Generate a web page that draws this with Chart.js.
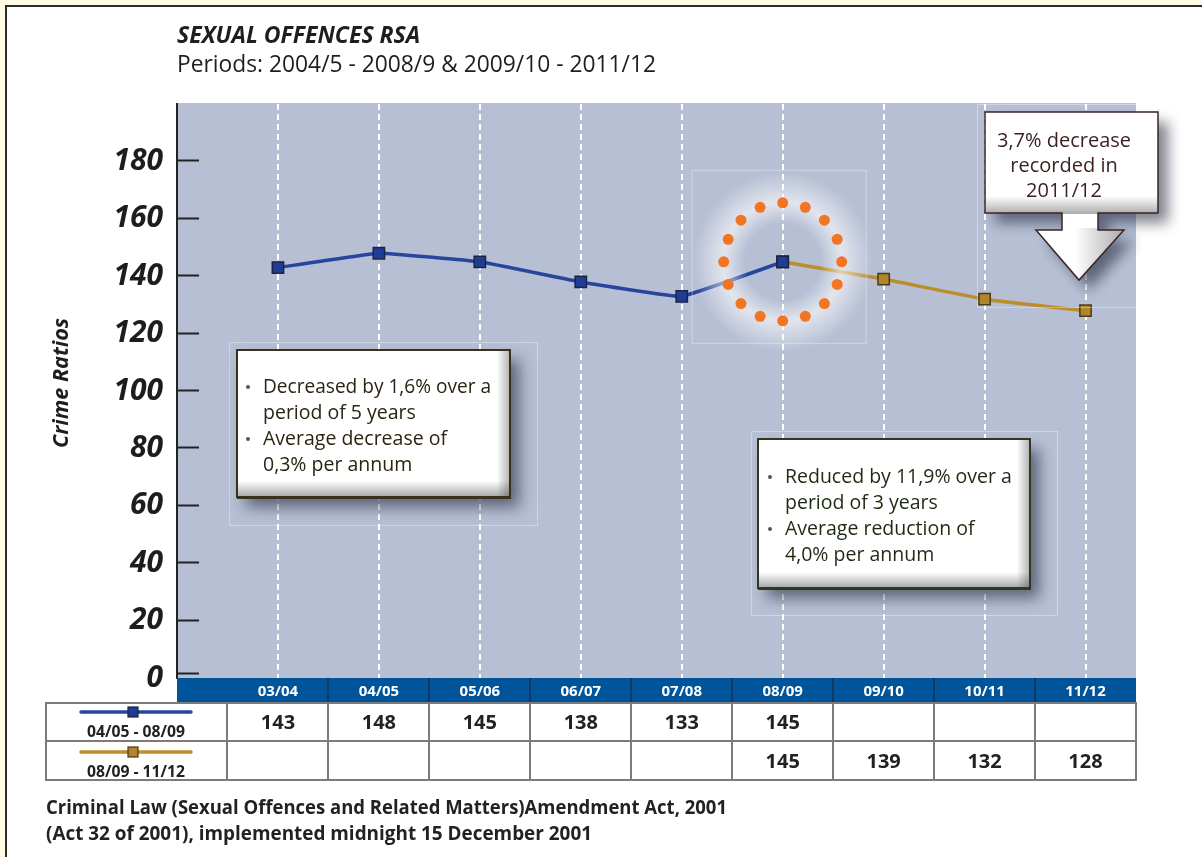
<!DOCTYPE html>
<html>
<head>
<meta charset="utf-8">
<title>Sexual Offences RSA</title>
<script src="https://cdn.jsdelivr.net/npm/chart.js@4.4.1/dist/chart.umd.min.js"></script>
<style>
  html, body { margin: 0; padding: 0; background: #fffbe4; }
  #frame {
    position: absolute; left: 5px; top: 5px; width: 1197px; height: 852px;
    background: #fff; border-left: 2px solid #2b2b2b; border-top: 2px solid #2b2b2b;
    box-sizing: border-box;
  }
  #graph1 { position: absolute; left: 0; top: 0; }
</style>
</head>
<body>
<div id="frame"></div>
<canvas id="graph1" width="1202" height="857"></canvas>
<script>
var FONT = "'Open Sans', 'Noto Sans', sans-serif";

// financial years along the bottom
var periods = ['03/04', '04/05', '05/06', '06/07', '07/08', '08/09', '09/10', '10/11', '11/12'];
// crime ratios per 100 000 of population
var ratioFirst = [143, 148, 145, 138, 133, 145, null, null, null];
var ratioSecond = [null, null, null, null, null, 145, 139, 132, 128];
var seriesNames = ['04/05 - 08/09', '08/09 - 11/12'];
var yTicks = [0, 20, 40, 60, 80, 100, 120, 140, 160, 180];

var noteFirst = [['Decreased by 1,6% over a', 'period of 5 years'], ['Average decrease of', '0,3% per annum']];
var noteSecond = [['Reduced by 11,9% over a', 'period of 3 years'], ['Average reduction of', '4,0% per annum']];
var noteLast = ['3,7% decrease', 'recorded in', '2011/12'];

var BLUE = '#27459c', BLUE_PT = '#1f3d96';
var GOLD = '#bb8d2d', GOLD_PT = '#b0862c';

function toPoints(arr) {
  return arr.map(function(v, i) { return { x: i, y: v }; }).filter(function(p) { return p.y !== null; });
}

function text(ctx, s, x, y, font, color, align, maxW) {
  ctx.font = font;
  ctx.fillStyle = color;
  ctx.textAlign = align || 'left';
  ctx.textBaseline = 'alphabetic';
  if (maxW) ctx.fillText(s, x, y, maxW); else ctx.fillText(s, x, y);
}

// white panel with a bevelled lower/right edge and a soft drop shadow
function bevelBox(ctx, x, y, w, h, edge) {
  ctx.save();
  ctx.shadowColor = 'rgba(20,25,45,0.55)';
  ctx.shadowBlur = 14;
  ctx.shadowOffsetX = 9;
  ctx.shadowOffsetY = 10;
  ctx.fillStyle = '#fff';
  ctx.fillRect(x, y, w, h);
  ctx.restore();
  var g = ctx.createLinearGradient(0, y + h - 16, 0, y + h);
  g.addColorStop(0, 'rgba(60,60,60,0)');
  g.addColorStop(1, 'rgba(60,60,60,0.45)');
  ctx.fillStyle = g;
  ctx.fillRect(x, y + h - 16, w, 16);
  g = ctx.createLinearGradient(x + w - 13, 0, x + w, 0);
  g.addColorStop(0, 'rgba(60,60,60,0)');
  g.addColorStop(1, 'rgba(60,60,60,0.4)');
  ctx.fillStyle = g;
  ctx.fillRect(x + w - 13, y, 13, h);
  ctx.strokeStyle = edge;
  ctx.lineWidth = 2;
  ctx.strokeRect(x, y, w, h);
  ctx.fillStyle = edge;
  ctx.fillRect(x, y + h - 1, w + 1, 3);
}

function bulletNote(ctx, items, x, y, color) {
  var line = 0;
  items.forEach(function(item) {
    ctx.fillStyle = '#555';
    ctx.beginPath();
    ctx.arc(x, y + line * 26 - 6, 2, 0, Math.PI * 2);
    ctx.fill();
    item.forEach(function(s) {
      text(ctx, s, x + 15, y + line * 26, '19.5px ' + FONT, color, 'left', 228);
      line++;
    });
  });
}

function guide(ctx, x, y, w, h) {
  ctx.strokeStyle = 'rgba(255,255,255,0.35)';
  ctx.lineWidth = 1;
  ctx.strokeRect(x + 0.5, y + 0.5, w, h);
}

var decor = {
  id: 'decor',
  beforeDraw: function(chart) {
    var ctx = chart.ctx, a = chart.chartArea;
    ctx.save();
    ctx.fillStyle = '#b6bfd4';
    ctx.fillRect(a.left, a.top - 1, a.right - a.left, a.bottom - a.top + 1);
    ctx.restore();
  },
  afterDatasetsDraw: function(chart) {
    var ctx = chart.ctx, xs = chart.scales.x, ys = chart.scales.y;
    var cx = xs.getPixelForValue(5), cy = ys.getPixelForValue(ratioFirst[5]);
    ctx.save();
    guide(ctx, cx - 91, cy - 92, 174, 173);
    // glowing ring of dots around the change of period
    var g = ctx.createRadialGradient(cx, cy, 0, cx, cy, 90);
    g.addColorStop(0, 'rgba(255,255,255,0)');
    g.addColorStop(0.42, 'rgba(255,255,255,0)');
    g.addColorStop(0.66, 'rgba(255,255,255,0.6)');
    g.addColorStop(1, 'rgba(255,255,255,0)');
    ctx.fillStyle = g;
    ctx.beginPath();
    ctx.arc(cx, cy, 90, 0, Math.PI * 2);
    ctx.fill();
    ctx.fillStyle = '#f37421';
    for (var k = 0; k < 16; k++) {
      var t = k * Math.PI / 8;
      ctx.beginPath();
      ctx.arc(cx + 59 * Math.sin(t), cy - 59 * Math.cos(t), 5.5, 0, Math.PI * 2);
      ctx.fill();
    }
    // redraw the point marker above the glow
    ctx.fillStyle = BLUE_PT;
    ctx.strokeStyle = '#1b2440';
    ctx.lineWidth = 1.5;
    ctx.fillRect(cx - 5.6, cy - 5.6, 11.2, 11.2);
    ctx.strokeRect(cx - 5.6, cy - 5.6, 11.2, 11.2);
    ctx.restore();
  },
  afterDraw: function(chart) {
    var ctx = chart.ctx, a = chart.chartArea, xs = chart.scales.x, ys = chart.scales.y;
    ctx.save();

    // headings
    text(ctx, 'SEXUAL OFFENCES RSA', 177, 43, 'italic bold 23px ' + FONT, '#1e1e1e', 'left', 246);
    text(ctx, 'Periods: 2004/5 - 2008/9 & 2009/10 - 2011/12', 177, 72, '23px ' + FONT, '#1e1e1e', 'left', 479);

    // y axis title
    ctx.save();
    ctx.translate(62, 383);
    ctx.rotate(-Math.PI / 2);
    ctx.font = 'italic bold 22px ' + FONT;
    ctx.fillStyle = '#1e1e1e';
    ctx.textAlign = 'center';
    ctx.textBaseline = 'middle';
    ctx.fillText('Crime Ratios', 0, 0, 130);
    ctx.restore();

    // inward tick marks
    ctx.strokeStyle = '#222';
    ctx.lineWidth = 2;
    yTicks.forEach(function(v) {
      var y = Math.round(ys.getPixelForValue(v)) - 0.5;
      if (v === 0) y -= 4;
      ctx.beginPath();
      ctx.moveTo(a.left, y);
      ctx.lineTo(a.left + 22, y);
      ctx.stroke();
    });

    // faint layout guides
    guide(ctx, 229, 342, 308, 183);
    guide(ctx, 751, 431, 306, 184);
    guide(ctx, 977, a.top, a.right - 977, 203);

    // note boxes
    bevelBox(ctx, 237, 350, 273, 147, '#3a3020');
    bulletNote(ctx, noteFirst, 248, 393, '#2b2410');
    bevelBox(ctx, 758, 439, 272, 149, '#2f3822');
    bulletNote(ctx, noteSecond, 770, 483, '#1f2a12');

    // arrow call-out
    ctx.save();
    ctx.beginPath();
    ctx.moveTo(985, 112);
    ctx.lineTo(1158, 112);
    ctx.lineTo(1158, 213);
    ctx.lineTo(1098, 213);
    ctx.lineTo(1098, 230);
    ctx.lineTo(1124, 230);
    ctx.lineTo(1079, 280);
    ctx.lineTo(1036, 230);
    ctx.lineTo(1062, 230);
    ctx.lineTo(1062, 213);
    ctx.lineTo(985, 213);
    ctx.closePath();
    ctx.save();
    ctx.shadowColor = 'rgba(20,25,45,0.55)';
    ctx.shadowBlur = 14;
    ctx.shadowOffsetX = 10;
    ctx.shadowOffsetY = 10;
    ctx.fillStyle = '#fff';
    ctx.fill();
    ctx.restore();
    ctx.save();
    ctx.clip();
    var g = ctx.createLinearGradient(0, 196, 0, 214);
    g.addColorStop(0, 'rgba(70,70,70,0)');
    g.addColorStop(1, 'rgba(70,70,70,0.45)');
    ctx.fillStyle = g;
    ctx.fillRect(985, 196, 173, 18);
    g = ctx.createLinearGradient(1075, 0, 1124, 0);
    g.addColorStop(0, 'rgba(70,70,70,0)');
    g.addColorStop(1, 'rgba(70,70,70,0.45)');
    ctx.fillStyle = g;
    ctx.fillRect(1075, 228, 50, 53);
    ctx.restore();
    ctx.strokeStyle = '#3a2424';
    ctx.lineWidth = 1.5;
    ctx.stroke();
    ctx.restore();
    noteLast.forEach(function(s, i) {
      text(ctx, s, 1064, 147 + i * 25, '20px ' + FONT, '#3b1f1f', 'center', 145);
    });

    // data table: header row
    var headTop = a.bottom, headBot = a.bottom + 25, rowMid = 741, rowBot = 780, tabLeft = 46;
    ctx.fillStyle = '#00549a';
    ctx.fillRect(a.left, headTop, a.right - a.left, headBot - headTop);
    ctx.strokeStyle = '#17324f';
    ctx.lineWidth = 1.5;
    periods.forEach(function(p, i) {
      var cx = xs.getPixelForValue(i);
      if (i < periods.length - 1) {
        var bx = Math.round(xs.getPixelForValue(i + 0.5));
        ctx.beginPath();
        ctx.moveTo(bx, headTop);
        ctx.lineTo(bx, headBot);
        ctx.stroke();
      }
      text(ctx, p, cx, headTop + 18, 'bold 15px ' + FONT, '#ffffff', 'center');
    });

    // body grid
    ctx.strokeStyle = '#7b7b7b';
    ctx.lineWidth = 2;
    ctx.strokeRect(tabLeft, headBot, a.right - tabLeft, rowBot - headBot);
    ctx.beginPath();
    ctx.moveTo(tabLeft, rowMid);
    ctx.lineTo(a.right, rowMid);
    for (var i = -1; i < periods.length - 1; i++) {
      var bx = Math.round(xs.getPixelForValue(i + 0.5));
      ctx.moveTo(bx, headBot);
      ctx.lineTo(bx, rowBot);
    }
    ctx.stroke();

    // legend keys inside the table
    [[BLUE, BLUE_PT, '#1b2440'], [GOLD, GOLD_PT, '#4a3a1a']].forEach(function(c, r) {
      var ly = 712 + r * 40;
      ctx.strokeStyle = c[0];
      ctx.lineWidth = 3.5;
      ctx.lineCap = 'round';
      ctx.beginPath();
      ctx.moveTo(81, ly);
      ctx.lineTo(191, ly);
      ctx.stroke();
      ctx.fillStyle = c[1];
      ctx.strokeStyle = c[2];
      ctx.lineWidth = 1.2;
      ctx.fillRect(128, ly - 5, 10, 10);
      ctx.strokeRect(128, ly - 5, 10, 10);
      text(ctx, seriesNames[r], 136, ly + 25, 'bold 16px ' + FONT, '#222', 'center', 98);
    });

    // table values
    [ratioFirst, ratioSecond].forEach(function(arr, r) {
      arr.forEach(function(v, i) {
        if (v === null) return;
        text(ctx, String(v), xs.getPixelForValue(i), 729 + r * 39, 'bold 20px ' + FONT, '#222', 'center');
      });
    });

    // footnote
    text(ctx, 'Criminal Law (Sexual Offences and Related Matters)Amendment Act, 2001', 46, 814, 'bold 19.5px ' + FONT, '#222', 'left', 681);
    text(ctx, '(Act 32 of 2001), implemented midnight 15 December 2001', 46, 840, 'bold 19.5px ' + FONT, '#222', 'left', 546);

    ctx.restore();
  }
};

document.addEventListener('DOMContentLoaded', function() {
  var ctx = document.querySelector('#graph1').getContext('2d');
  var chart = new Chart(ctx, {
    type: 'line',
    data: {
      datasets: [{
        label: seriesNames[0],
        data: toPoints(ratioFirst),
        borderColor: BLUE,
        backgroundColor: BLUE_PT,
        pointBorderColor: '#1b2440',
        borderWidth: 3.5,
        tension: 0.08,
        pointStyle: 'rect',
        pointRadius: 8,
        pointBorderWidth: 1.5,
        order: 0
      }, {
        label: seriesNames[1],
        data: toPoints(ratioSecond),
        borderColor: GOLD,
        backgroundColor: GOLD_PT,
        pointBorderColor: '#4a3a1a',
        borderWidth: 3.5,
        tension: 0.08,
        pointStyle: 'rect',
        pointRadius: 8,
        pointBorderWidth: 1.5,
        order: 1
      }]
    },
    options: {
      responsive: false,
      animation: false,
      devicePixelRatio: 1,
      layout: { padding: { left: 0, top: 104, right: 66, bottom: 179 } },
      plugins: { legend: { display: false }, tooltip: { enabled: false } },
      scales: {
        x: {
          type: 'linear',
          min: -1,
          max: 8.5,
          afterBuildTicks: function(s) { s.ticks = periods.map(function(p, i) { return { value: i }; }); },
          afterFit: function(s) { s.height = 0; },
          ticks: { display: false },
          grid: { color: '#ffffff', lineWidth: 2, drawTicks: false },
          border: { display: false, dash: [6, 4] }
        },
        y: {
          min: 0,
          max: 200,
          afterBuildTicks: function(s) { s.ticks = yTicks.map(function(v) { return { value: v }; }); },
          afterFit: function(s) { s.width = 177; },
          ticks: {
            color: '#1d1d1d',
            padding: 14,
            font: { family: FONT, size: 30, style: 'italic', weight: 'bold' }
          },
          grid: { drawOnChartArea: false, drawTicks: false },
          border: { display: true, color: '#222', width: 2 }
        }
      }
    },
    plugins: [decor]
  });
});
</script>
</body>
</html>
